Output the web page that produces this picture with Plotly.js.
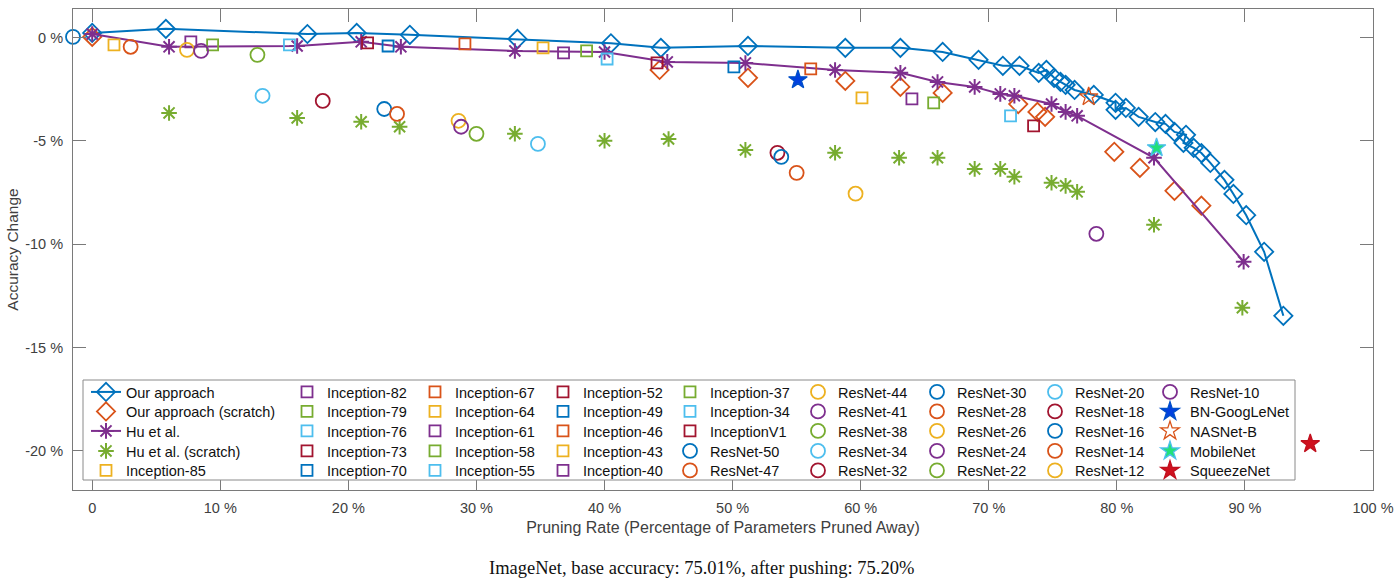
<!DOCTYPE html>
<html><head><meta charset="utf-8">
<script src="https://cdn.plot.ly/plotly-3.0.1.min.js"></script>
<style>html,body{margin:0;padding:0;background:#fff}#chart{width:1398px;height:578px}</style>
</head><body><div id="chart"></div>
<script>
// ---------------- data ----------------
const ourX = [0, 5.75, 16.8, 20.65, 24.8, 33.2, 40.5, 44.4, 51.2, 58.8, 63.1, 66.4, 69.2, 71.1, 72.4, 73.9, 74.5, 75.1, 75.6, 76.0, 76.7, 78.2, 79.9, 79.9, 80.7, 81.7, 83.0, 83.8, 84.5, 85.4, 85.2, 86.0, 86.6, 87.3, 88.4, 89.1, 90.1, 91.5, 93.0];
const ourY = [0.22, 0.42, 0.17, 0.22, 0.13, -0.07, -0.28, -0.5, -0.41, -0.5, -0.5, -0.7, -1.08, -1.37, -1.37, -1.71, -1.57, -1.95, -2.15, -2.29, -2.54, -2.78, -3.16, -3.5, -3.41, -3.84, -4.09, -4.18, -4.57, -4.71, -5.1, -5.34, -5.59, -6.07, -6.89, -7.57, -8.6, -10.37, -13.47];

const ourScratchX = [0, 44.3, 51.2, 58.8, 63.1, 66.4, 72.3, 73.8, 74.4, 79.8, 81.8, 84.5, 86.6];
const ourScratchY = [0.03, -1.57, -1.95, -2.1, -2.39, -2.68, -3.22, -3.6, -3.84, -5.53, -6.31, -7.42, -8.14];

const huX = [0, 6.0, 16.0, 21.0, 24.1, 33.0, 40.0, 44.9, 51.0, 58.0, 63.1, 66.0, 68.9, 70.9, 72.0, 74.9, 76.0, 76.9, 82.9, 89.9];
const huY = [0.17, -0.45, -0.41, -0.21, -0.45, -0.65, -0.7, -1.18, -1.23, -1.57, -1.71, -2.15, -2.39, -2.73, -2.82, -3.22, -3.6, -3.79, -5.82, -10.85];

const huScratchX = [6.0, 16.0, 21.0, 24.0, 33.0, 40.0, 45.0, 51.0, 58.0, 63.0, 66.0, 68.9, 70.9, 72.0, 74.9, 76.0, 76.9, 82.9, 89.8];
const huScratchY = [-3.65, -3.89, -4.08, -4.32, -4.66, -5.0, -4.91, -5.44, -5.58, -5.82, -5.82, -6.36, -6.36, -6.74, -7.03, -7.18, -7.47, -9.06, -13.08];

const inceptionNames = ['Inception-85','Inception-82','Inception-79','Inception-76','Inception-73','Inception-70','Inception-67','Inception-64','Inception-61','Inception-58','Inception-55','Inception-52','Inception-49','Inception-46','Inception-43','Inception-40','Inception-37','Inception-34','InceptionV1'];
const inceptionX = [1.7, 7.7, 9.4, 15.4, 21.5, 23.1, 29.1, 35.2, 36.8, 38.6, 40.2, 44.1, 50.1, 56.1, 60.1, 64.0, 65.7, 71.7, 73.5];
const inceptionY = [-0.36, -0.21, -0.36, -0.36, -0.26, -0.41, -0.31, -0.5, -0.74, -0.65, -1.04, -1.23, -1.42, -1.52, -2.92, -2.97, -3.16, -3.79, -4.28];

const resnetNames = ['ResNet-50','ResNet-47','ResNet-44','ResNet-41','ResNet-38','ResNet-34','ResNet-32','ResNet-30','ResNet-28','ResNet-26','ResNet-24','ResNet-22','ResNet-20','ResNet-18','ResNet-16','ResNet-14','ResNet-12','ResNet-10'];
const resnetX = [-1.5, 3.0, 7.4, 8.5, 12.9, 13.3, 18.0, 22.8, 23.8, 28.6, 28.8, 30.0, 34.8, 53.5, 53.8, 55.0, 59.6, 78.4];
const resnetY = [0.03, -0.45, -0.6, -0.65, -0.84, -2.82, -3.07, -3.46, -3.7, -4.03, -4.32, -4.66, -5.15, -5.58, -5.78, -6.55, -7.56, -9.5];

const starNames = ['BN-GoogLeNet','NASNet-B','MobileNet','SqueezeNet'];
const starX = [55.1, 77.8, 83.1, 95.1];
const starY = [-2.05, -2.87, -5.34, -19.66];

const xTickVals = [0, 10, 20, 30, 40, 50, 60, 70, 80, 90, 100];
const xTickText = ['0', '10 %', '20 %', '30 %', '40 %', '50 %', '60 %', '70 %', '80 %', '90 %', '100 %'];
const yTickVals = [0, -5, -10, -15, -20];
const yTickText = ['0 %', '-5 %', '-10 %', '-15 %', '-20 %'];

// ---------------- styles ----------------
const palette = ['#0072BD','#D95319','#EDB120','#7E2F8E','#77AC30','#4DBEEE','#A2142F'];
const starColors = [{fill:'#0040E0', line:'#0050C8', sym:'star'}, {fill:'#D95319', line:'#D95319', sym:'star-open'}, {fill:'#22E07A', line:'#4DBEEE', sym:'star'}, {fill:'#D0101E', line:'#C0101E', sym:'star'}];
const FONT = '"Liberation Sans", Arial, Helvetica, sans-serif';

const traces = [];
traces.push({name:'Our approach', x:ourX, y:ourY, type:'scatter', mode:'lines+markers',
  line:{color:palette[0], width:2},
  marker:{symbol:'diamond-open', size:14, color:palette[0], line:{width:1.8, color:palette[0]}}});
traces.push({name:'Our approach (scratch)', x:ourScratchX, y:ourScratchY, type:'scatter', mode:'markers',
  marker:{symbol:'diamond-open', size:14, color:palette[1], line:{width:1.8, color:palette[1]}}});
traces.push({name:'Hu et al.', x:huX, y:huY, type:'scatter', mode:'lines+markers',
  line:{color:palette[3], width:2},
  marker:{symbol:'asterisk-open', size:13, color:palette[3], line:{width:2, color:palette[3]}}});
traces.push({name:'Hu et al. (scratch)', x:huScratchX, y:huScratchY, type:'scatter', mode:'markers',
  marker:{symbol:'asterisk-open', size:13, color:palette[4], line:{width:2, color:palette[4]}}});

const modelNames = inceptionNames.concat(resnetNames);
const modelX = inceptionX.concat(resnetX);
const modelY = inceptionY.concat(resnetY);
modelNames.forEach((nm, k) => {
  const c = palette[(2 + k) % 7];
  const isInc = k < inceptionNames.length;
  traces.push({name:nm, x:[modelX[k]], y:[modelY[k]], type:'scatter', mode:'markers',
    marker:{symbol: isInc ? 'square-open' : 'circle-open', size: isInc ? 11 : 14, color:c, line:{width:1.8, color:c}}});
});
starNames.forEach((nm, k) => {
  const s = starColors[k];
  traces.push({name:nm, x:[starX[k]], y:[starY[k]], type:'scatter', mode:'markers',
    marker:{symbol:s.sym, size:14, color:s.fill, line:{width:1.3, color:s.line}}});
});

// ---------------- layout ----------------
const L = 73, R = 25, T = 9, B = 88, W = 1398, H = 578;
const pw = W - L - R, ph = H - T - B;
const colMarkerPx = [106, 307, 435, 563, 690, 818, 937, 1055, 1170];
const rowPx = [392, 411.5, 431, 451, 470.5];

const layout = {
  width: W, height: H,
  margin: {l:L, r:R, t:T, b:B, pad:0},
  paper_bgcolor: '#fff', plot_bgcolor: '#fff',
  font: {family: FONT, color:'#222'},
  showlegend: true,
  xaxis: {range:[-1.5, 100], tickvals:xTickVals, ticktext:xTickText, showgrid:false, zeroline:false,
    showline:true, linecolor:'#7a7a7a', linewidth:1, mirror:'ticks', ticks:'inside', ticklen:13, tickcolor:'#7a7a7a',
    tickfont:{family:FONT, size:14.5, color:'#404040'}, ticklabelstandoff:5,
    title:{text:'Pruning Rate (Percentage of Parameters Pruned Away)', font:{family:FONT, size:16, color:'#404040'}, standoff:6}},
  yaxis: {range:[-21.9, 1.38], tickvals:yTickVals, ticktext:yTickText, showgrid:false, zeroline:false,
    showline:true, linecolor:'#7a7a7a', linewidth:1, mirror:'ticks', ticks:'inside', ticklen:13, tickcolor:'#7a7a7a',
    tickfont:{family:FONT, size:14.5, color:'#404040'}, ticklabelstandoff:6,
    title:{text:'Accuracy Change', font:{family:FONT, size:15.5, color:'#404040'}, standoff:2}},
  shapes: [{type:'rect', xref:'paper', yref:'paper', layer:'above',
    x0:(83 - L)/pw, x1:(1295 - L)/pw, y0:(H - B - 480)/ph, y1:(H - B - 380)/ph,
    line:{color:'#8a8a8a', width:1}, fillcolor:'#ffffff'}],
  annotations: [{text:'ImageNet, base accuracy: 75.01%, after pushing: 75.20%', xref:'paper', yref:'paper',
    x:(701 - L)/pw, y:(H - B - 568)/ph, xanchor:'center', yanchor:'middle', showarrow:false,
    font:{family:'"Liberation Serif", "Times New Roman", serif', size:18.5, color:'#111'}}]
};

traces.forEach((tr, i) => {
  const key = i === 0 ? 'legend' : 'legend' + (i + 1);
  tr.legend = key;
  tr.cliponaxis = false;
  const col = Math.floor(i / 5), row = i % 5;
  layout[key] = {x:(colMarkerPx[col] - 20 - L)/pw, y:(H - B - rowPx[row])/ph, xanchor:'left', yanchor:'middle',
    bgcolor:'rgba(0,0,0,0)', borderwidth:0, font:{family:FONT, size:14.5, color:'#111'}, orientation:'v'};
});

Plotly.newPlot('chart', traces, layout, {displayModeBar:false, staticPlot:true});
</script>
</body></html>
